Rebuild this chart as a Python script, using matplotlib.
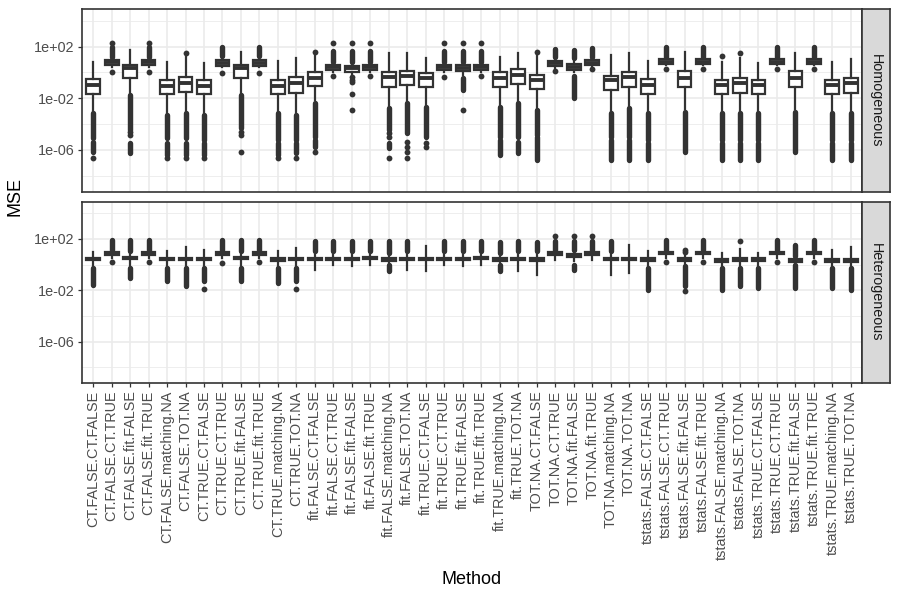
import numpy as np
import matplotlib
matplotlib.use("Agg")
import matplotlib.pyplot as plt
from matplotlib.ticker import FixedLocator, FixedFormatter, NullFormatter

plt.rcParams["font.family"] = ["Liberation Sans", "DejaVu Sans"]

methods = [
    "CT.FALSE.CT.FALSE", "CT.FALSE.CT.TRUE", "CT.FALSE.fit.FALSE", "CT.FALSE.fit.TRUE",
    "CT.FALSE.matching.NA", "CT.FALSE.TOT.NA", "CT.TRUE.CT.FALSE", "CT.TRUE.CT.TRUE",
    "CT.TRUE.fit.FALSE", "CT.TRUE.fit.TRUE", "CT.TRUE.matching.NA", "CT.TRUE.TOT.NA",
    "fit.FALSE.CT.FALSE", "fit.FALSE.CT.TRUE", "fit.FALSE.fit.FALSE", "fit.FALSE.fit.TRUE",
    "fit.FALSE.matching.NA", "fit.FALSE.TOT.NA", "fit.TRUE.CT.FALSE", "fit.TRUE.CT.TRUE",
    "fit.TRUE.fit.FALSE", "fit.TRUE.fit.TRUE", "fit.TRUE.matching.NA", "fit.TRUE.TOT.NA",
    "TOT.NA.CT.FALSE", "TOT.NA.CT.TRUE", "TOT.NA.fit.FALSE", "TOT.NA.fit.TRUE",
    "TOT.NA.matching.NA", "TOT.NA.TOT.NA", "tstats.FALSE.CT.FALSE", "tstats.FALSE.CT.TRUE",
    "tstats.FALSE.fit.FALSE", "tstats.FALSE.fit.TRUE", "tstats.FALSE.matching.NA",
    "tstats.FALSE.TOT.NA", "tstats.TRUE.CT.FALSE", "tstats.TRUE.CT.TRUE",
    "tstats.TRUE.fit.FALSE", "tstats.TRUE.fit.TRUE", "tstats.TRUE.matching.NA",
    "tstats.TRUE.TOT.NA",
]
panels = ["Homogeneous", "Heterogeneous"]

# all box values are log10(MSE)
homo_whi = [0.84, 1.10, 1.74, 1.10, 0.84, 1.17, 0.76, 1.10, 1.61, 1.10, 0.92, 1.10,
            1.35, 0.71, 0.71, 0.71, 1.54, 1.54, 1.10, 0.71, 0.71, 0.71, 1.23, 1.54,
            1.35, 1.05, 0.97, 1.10, 1.35, 1.48, 0.89, 1.15, 1.56, 1.15, 0.84, 1.10,
            0.76, 1.15, 1.54, 1.15, 0.84, 1.02]
homo_q3 = [-0.53, 0.94, 0.58, 0.94, -0.58, -0.37, -0.58, 0.94, 0.58, 0.94, -0.58, -0.37,
           0.01, 0.58, 0.53, 0.58, 0.07, 0.14, -0.01, 0.58, 0.58, 0.58, 0.07, 0.25,
           -0.19, 0.89, 0.66, 0.97, -0.27, 0.07, -0.53, 1.02, 0.12, 1.02, -0.58, -0.45,
           -0.58, 1.02, 0.12, 1.02, -0.58, -0.45]
homo_med = [-0.97, 0.79, 0.37, 0.79, -1.04, -0.79, -1.04, 0.76, 0.32, 0.76, -1.04, -0.79,
            -0.40, 0.40, 0.32, 0.40, -0.32, -0.25, -0.45, 0.40, 0.37, 0.40, -0.45, -0.19,
            -0.58, 0.71, 0.45, 0.76, -0.58, -0.37, -0.97, 0.84, -0.45, 0.84, -0.97, -0.84,
            -0.97, 0.84, -0.45, 0.84, -0.97, -0.84]
homo_q1 = [-1.66, 0.58, -0.40, 0.56, -1.66, -1.48, -1.66, 0.53, -0.45, 0.53, -1.66, -1.56,
           -1.04, 0.19, 0.07, 0.19, -1.15, -0.97, -1.15, 0.19, 0.14, 0.19, -1.15, -0.89,
           -1.30, 0.53, 0.19, 0.58, -1.35, -1.15, -1.66, 0.66, -1.15, 0.66, -1.66, -1.61,
           -1.66, 0.66, -1.15, 0.66, -1.66, -1.61]
homo_wlo = [-3.0, 0.45, -1.61, 0.45, -3.1, -3.0, -3.1, 0.40, -1.6, 0.40, -3.0, -3.1,
            -2.13, 0.07, -0.19, 0.07, -2.6, -2.3, -2.5, 0.07, -0.19, 0.07, -2.5, -2.2,
            -2.8, 0.32, 0.07, 0.45, -3.0, -2.6, -3.0, 0.55, -2.8, 0.55, -3.0, -3.0,
            -3.0, 0.55, -2.8, 0.55, -3.0, -3.0]
# dense runs of outlier points (low, high) and single outliers
homo_runs = [
    [(-5.10, -3.16), (-6.13, -5.35)], [(1.23, 2.0)], [(-4.45, -1.74), (-6.26, -5.48)],
    [(1.23, 2.0)], [(-5.10, -3.29), (-6.39, -5.48)], [(-5.10, -3.16), (-6.39, -5.48)],
    [(-5.22, -3.29), (-6.39, -5.48)], [(1.28, 2.0)], [(-4.32, -1.74)], [(1.28, 2.0)],
    [(-5.22, -3.16), (-6.39, -5.48)], [(-5.22, -3.29), (-6.26, -5.48)],
    [(-4.97, -2.39), (-5.74, -5.22)], [(0.84, 1.70)], [(0.84, 1.70)], [(0.84, 1.70)],
    [(-4.45, -2.77), (-5.87, -5.48)], [(-4.71, -2.39)], [(-4.97, -2.64)], [(0.84, 1.70)],
    [(0.84, 1.70), (-1.35, -0.45)], [(0.84, 1.70)], [(-4.97, -2.64), (-6.39, -5.22)],
    [(-4.97, -2.39), (-6.26, -5.35)], [(-4.84, -2.90), (-6.77, -5.0)], [(1.23, 1.80)],
    [(1.10, 1.74), (-2.0, -0.27)], [(1.23, 1.87)], [(-4.97, -3.16), (-6.77, -5.22)],
    [(-4.97, -2.77), (-6.77, -5.22)], [(-5.22, -3.16), (-6.77, -5.48)], [(1.23, 2.0)],
    [(-6.13, -3.03)], [(1.23, 2.0)], [(-5.22, -3.16), (-6.77, -5.48)],
    [(-5.22, -3.16), (-6.77, -5.48)], [(-5.22, -3.16), (-6.77, -5.48)], [(1.23, 2.0)],
    [(-6.13, -3.03)], [(1.23, 2.0)], [(-5.22, -3.16), (-6.77, -5.48)],
    [(-5.22, -3.16), (-6.77, -5.48)],
]
homo_pts = [
    [-6.64], [2.31, 0.07], [-4.58, -4.84], [2.31, 0.07], [-6.64], [1.54, -6.64], [-6.64],
    [-0.01], [-4.58, -4.84, -6.13], [-0.01], [-6.64], [-6.64], [1.56, -6.17], [2.31, -0.27],
    [2.31, -0.37, -0.55, -0.71, -1.66, -2.90], [2.31, -0.27], [-4.71, -4.97, -6.64],
    [-5.35, -5.74, -6.13, -6.64], [-5.48, -5.74], [2.31, -0.32], [2.31, -2.90], [2.31, -0.27],
    [], [], [1.56], [0.14], [], [0.25], [], [], [], [0.25], [], [0.25], [1.28], [1.54], [],
    [0.25], [], [0.25], [], [],
]

hetero_whi = [0.96, 1.1, 1.0, 1.1, 1.04, 1.38, 1.17, 1.1, 1.0, 1.1, 1.04, 1.30,
              1.0, 0.9, 0.9, 0.9, 0.8, 1.0, 1.43, 0.9, 0.9, 0.9, 0.8, 1.0,
              1.0, 1.05, 1.05, 1.05, 1.0, 1.56, 1.04, 1.1, 0.7, 1.1, 0.91, 1.22,
              0.91, 1.1, 0.6, 1.1, 1.11, 1.38]
hetero_q3 = [0.55, 0.95, 0.62, 0.95, 0.55, 0.55, 0.55, 0.95, 0.62, 0.95, 0.50, 0.55,
             0.55, 0.55, 0.55, 0.62, 0.50, 0.55, 0.55, 0.55, 0.55, 0.62, 0.50, 0.55,
             0.50, 0.95, 0.80, 0.95, 0.55, 0.55, 0.50, 1.0, 0.52, 1.0, 0.45, 0.50,
             0.50, 1.0, 0.45, 1.0, 0.45, 0.45]
hetero_med = [0.44, 0.85, 0.52, 0.85, 0.44, 0.44, 0.44, 0.85, 0.52, 0.85, 0.39, 0.44,
              0.44, 0.44, 0.44, 0.52, 0.39, 0.44, 0.44, 0.44, 0.44, 0.52, 0.39, 0.44,
              0.39, 0.85, 0.70, 0.85, 0.44, 0.44, 0.39, 0.91, 0.38, 0.91, 0.33, 0.39,
              0.39, 0.91, 0.33, 0.91, 0.33, 0.33]
hetero_q1 = [0.33, 0.75, 0.42, 0.75, 0.33, 0.33, 0.33, 0.75, 0.42, 0.75, 0.28, 0.33,
             0.33, 0.33, 0.33, 0.42, 0.28, 0.33, 0.33, 0.33, 0.33, 0.42, 0.28, 0.33,
             0.28, 0.75, 0.60, 0.75, 0.33, 0.33, 0.28, 0.80, 0.25, 0.80, 0.22, 0.28,
             0.28, 0.80, 0.22, 0.80, 0.22, 0.22]
hetero_wlo = [-0.2, 0.55, -0.2, 0.55, -0.2, -0.2, -0.2, 0.55, -0.2, 0.55, -0.2, -0.2,
              -0.4, 0.0, -0.14, 0.0, 0.1, -0.4, -0.53, 0.0, -0.08, 0.0, 0.1, -0.53,
              -0.79, 0.39, 0.3, 0.39, -0.79, -0.66, -0.2, 0.55, 0.0, 0.55, -0.2, -0.2,
              -0.2, 0.55, 0.0, 0.55, -0.2, -0.2]
hetero_runs = [
    [(-1.57, -0.3)], [(1.17, 1.95)], [(1.04, 1.95), (-1.05, -0.3)], [(1.17, 1.95)],
    [(-1.31, -0.3)], [(-1.70, -0.3)], [(-1.31, -0.3)], [(1.17, 1.95)],
    [(1.04, 1.95), (-1.31, -0.3)], [(1.17, 1.95)], [(-1.44, -0.3)], [(-1.31, -0.3)],
    [(1.04, 1.82)], [(1.04, 1.82)], [(1.04, 1.82)], [(1.04, 1.82)],
    [(0.91, 1.82), (-0.53, 0.0)], [(1.04, 1.82)], [], [(1.04, 1.82)], [(1.04, 1.82)],
    [(1.04, 1.82)], [(0.91, 1.74), (-0.53, 0.0)], [(1.04, 1.82)], [(1.04, 1.74)],
    [(1.17, 1.82)], [(1.17, 1.82), (-0.40, 0.0)], [(1.17, 1.82)], [(1.04, 1.82)], [],
    [(-1.96, -0.3)], [(1.17, 1.95)], [(-1.70, -0.14)], [(1.17, 1.95)], [(-1.96, -0.3)],
    [(-1.70, -0.3)], [(-1.83, -0.3)], [(1.17, 1.95)], [(0.65, 1.56), (-1.83, -0.05)],
    [(1.17, 1.95)], [(-1.83, -0.3)], [(-1.96, -0.3)],
]
hetero_pts = [
    [], [0.18], [], [0.18], [], [], [-1.88], [0.13], [], [0.18], [], [-1.88],
    [], [], [], [], [], [], [], [], [], [], [], [],
    [], [2.26], [2.26], [2.26], [], [], [], [0.18], [1.17, 0.96, -2.09], [0.18], [], [1.82],
    [], [0.18], [], [0.18], [], [],
]

y_ticks = [1e2, 1e-2, 1e-6]
y_tick_labels = ["1e+02", "1e-02", "1e-06"]
y_minor = [1e4, 1e0, 1e-4, 1e-8]

dark = "#333333"
grid_col = "#EBEBEB"
pos = np.arange(1, len(methods) + 1)


def draw_panel(ax, whi, q3, med, q1, wlo, runs, pts, label, show_x):
    stats = []
    for i in range(len(methods)):
        stats.append({"med": 10 ** med[i], "q1": 10 ** q1[i], "q3": 10 ** q3[i],
                      "whislo": 10 ** wlo[i], "whishi": 10 ** whi[i], "fliers": []})
    ax.set_yscale("log")
    ax.set_xlim(0.4, len(methods) + 0.6)
    ax.set_ylim(10 ** -9.23, 10 ** 4.89)

    # outliers: dense runs drawn as round-capped bars, plus single points
    for i in range(len(methods)):
        for lo, hi in runs[i]:
            ax.plot([pos[i], pos[i]], [10 ** lo, 10 ** hi], color=dark, lw=3.9,
                    solid_capstyle="round", zorder=2)
        if pts[i]:
            ax.plot([pos[i]] * len(pts[i]), 10 ** np.array(pts[i]), "o", color=dark,
                    ms=4.2, mew=0, zorder=2)

    ax.bxp(stats, positions=pos, widths=0.75, showfliers=False, showcaps=False,
           patch_artist=True,
           boxprops=dict(facecolor="white", edgecolor=dark, linewidth=1.6),
           whiskerprops=dict(color=dark, linewidth=1.6),
           medianprops=dict(color=dark, linewidth=2.8, solid_capstyle="butt"),
           manage_ticks=False, zorder=3)

    ax.xaxis.set_major_locator(FixedLocator(pos))
    ax.yaxis.set_major_locator(FixedLocator(y_ticks))
    ax.yaxis.set_major_formatter(FixedFormatter(y_tick_labels))
    ax.yaxis.set_minor_locator(FixedLocator(y_minor))
    ax.yaxis.set_minor_formatter(NullFormatter())
    ax.grid(True, which="major", color=grid_col, lw=1.2)
    ax.grid(True, which="minor", axis="y", color=grid_col, lw=0.6)
    ax.set_axisbelow(True)
    ax.tick_params(which="minor", length=0)
    ax.tick_params(axis="y", which="major", length=3.2, width=0.9, color=dark,
                   labelsize=10.4, labelcolor="#4D4D4D", pad=2)
    if show_x:
        ax.set_xticklabels(methods, rotation=90, ha="center", va="top")
        ax.tick_params(axis="x", length=3.2, width=0.9, color=dark,
                       labelsize=10.4, labelcolor="#4D4D4D", pad=2)
    else:
        ax.tick_params(axis="x", length=0, labelbottom=False)
    for sp in ax.spines.values():
        sp.set_color(dark)
        sp.set_linewidth(1.2)

    # facet strip on the right
    b = ax.get_position()
    sax = ax.figure.add_axes([b.x1, b.y0, 28 / 900, b.height])
    sax.set_facecolor("#D9D9D9")
    sax.set_xticks([])
    sax.set_yticks([])
    for sp in sax.spines.values():
        sp.set_color(dark)
        sp.set_linewidth(1.2)
    sax.text(0.5, 0.5, label, rotation=-90, ha="center", va="center",
             fontsize=10.4, color="#1A1A1A", transform=sax.transAxes)


fig = plt.figure(figsize=(9, 6), dpi=100)
ax_top = fig.add_axes([82 / 900, 1 - 191.7 / 600, 780 / 900, 182.4 / 600])
ax_bot = fig.add_axes([82 / 900, 1 - 383.3 / 600, 780 / 900, 181.6 / 600])

draw_panel(ax_top, homo_whi, homo_q3, homo_med, homo_q1, homo_wlo, homo_runs, homo_pts,
           panels[0], False)
draw_panel(ax_bot, hetero_whi, hetero_q3, hetero_med, hetero_q1, hetero_wlo, hetero_runs,
           hetero_pts, panels[1], True)

fig.text(15 / 900, 1 - 196 / 600, "MSE", rotation=90, ha="center", va="center",
         fontsize=13)
fig.text(472 / 900, 1 - 580 / 600, "Method", ha="center", va="center", fontsize=13)

fig.savefig("out.png", dpi=100)
